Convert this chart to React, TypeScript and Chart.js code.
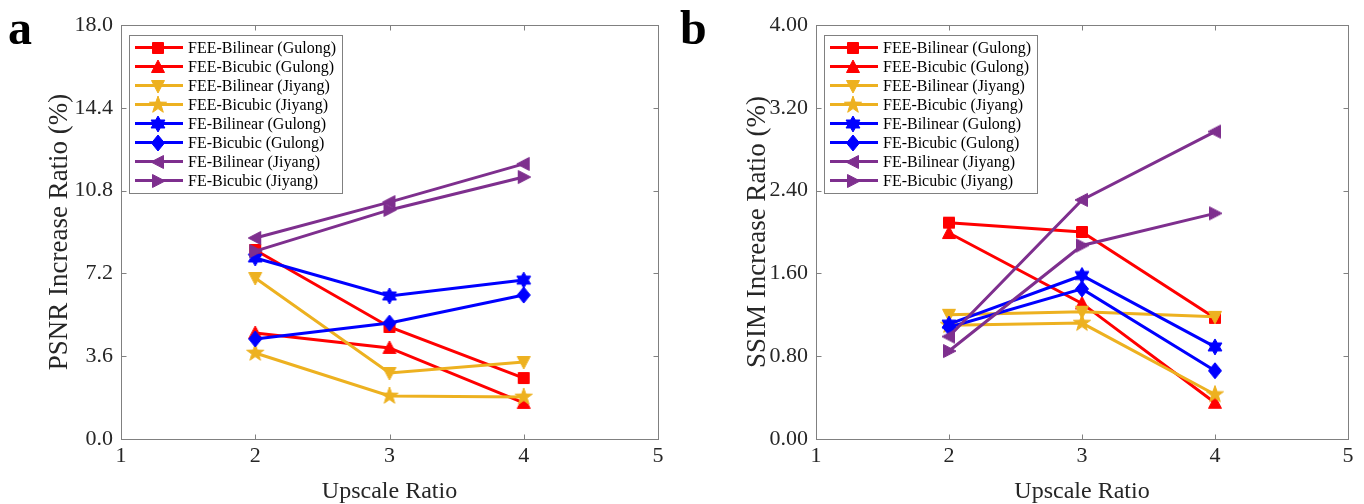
import React, { useEffect, useRef } from "react";
import { Chart, registerables } from "chart.js";

Chart.register(...registerables);

// ---------- data ----------
const upscaleRatios = [2, 3, 4];

const seriesLabels = [
  "FEE-Bilinear (Gulong)",
  "FEE-Bicubic (Gulong)",
  "FEE-Bilinear (Jiyang)",
  "FEE-Bicubic (Jiyang)",
  "FE-Bilinear (Gulong)",
  "FE-Bicubic (Gulong)",
  "FE-Bilinear (Jiyang)",
  "FE-Bicubic (Jiyang)",
];
const seriesColors = ["#FF0000", "#FF0000", "#EDB120", "#EDB120", "#0000FF", "#0000FF", "#7E2F8E", "#7E2F8E"];
const seriesMarkers = ["square", "triangleUp", "triangleDown", "pentagram", "hexagram", "diamond", "triangleLeft", "triangleRight"];

// PSNR increase ratio (%)
const psnrFeeBilinearGulong = [8.22, 4.87, 2.65];
const psnrFeeBicubicGulong = [4.61, 3.96, 1.57];
const psnrFeeBilinearJiyang = [7.0, 2.87, 3.35];
const psnrFeeBicubicJiyang = [3.74, 1.87, 1.83];
const psnrFeBilinearGulong = [7.87, 6.22, 6.91];
const psnrFeBicubicGulong = [4.35, 5.04, 6.26];
const psnrFeBilinearJiyang = [8.74, 10.3, 11.96];
const psnrFeBicubicJiyang = [8.17, 9.96, 11.39];

// SSIM increase ratio (%)
const ssimFeeBilinearGulong = [2.09, 2.0, 1.17];
const ssimFeeBicubicGulong = [1.99, 1.31, 0.35];
const ssimFeeBilinearJiyang = [1.2, 1.23, 1.18];
const ssimFeeBicubicJiyang = [1.1, 1.12, 0.43];
const ssimFeBilinearGulong = [1.11, 1.58, 0.89];
const ssimFeBicubicGulong = [1.08, 1.45, 0.66];
const ssimFeBilinearJiyang = [0.99, 2.31, 2.97];
const ssimFeBicubicJiyang = [0.85, 1.87, 2.18];

const xTicks = [1, 2, 3, 4, 5];
const psnrTicks = [0, 3.6, 7.2, 10.8, 14.4, 18.0];
const ssimTicks = [0, 0.8, 1.6, 2.4, 3.2, 4.0];

const psnrSeries = [
  psnrFeeBilinearGulong, psnrFeeBicubicGulong, psnrFeeBilinearJiyang, psnrFeeBicubicJiyang,
  psnrFeBilinearGulong, psnrFeBicubicGulong, psnrFeBilinearJiyang, psnrFeBicubicJiyang,
];
const ssimSeries = [
  ssimFeeBilinearGulong, ssimFeeBicubicGulong, ssimFeeBilinearJiyang, ssimFeeBicubicJiyang,
  ssimFeBilinearGulong, ssimFeBicubicGulong, ssimFeBilinearJiyang, ssimFeBicubicJiyang,
];

// ---------- styling helpers ----------
const FONT = "'Liberation Serif', 'Times New Roman', serif";
const TEXT = "#262626";
const FRAME = "#808080";

function makeMarker(shape: string, color: string): HTMLCanvasElement {
  const s = 20;
  const c = document.createElement("canvas");
  c.width = s;
  c.height = s;
  const ctx = c.getContext("2d")!;
  ctx.translate(s / 2, s / 2);
  ctx.fillStyle = color;
  ctx.strokeStyle = color;
  ctx.lineWidth = 1;
  ctx.beginPath();
  const poly = (pts: number[][]) => {
    ctx.moveTo(pts[0][0], pts[0][1]);
    for (let i = 1; i < pts.length; i++) ctx.lineTo(pts[i][0], pts[i][1]);
    ctx.closePath();
  };
  const star = (n: number, R: number, r: number) => {
    const pts: number[][] = [];
    for (let i = 0; i < n * 2; i++) {
      const a = -Math.PI / 2 + (i * Math.PI) / n;
      const rad = i % 2 === 0 ? R : r;
      pts.push([Math.cos(a) * rad, Math.sin(a) * rad]);
    }
    poly(pts);
  };
  switch (shape) {
    case "square":
      ctx.rect(-5.5, -5.5, 11, 11);
      break;
    case "triangleUp":
      poly([[0, -7], [6.5, 5.5], [-6.5, 5.5]]);
      break;
    case "triangleDown":
      poly([[0, 7], [6.5, -5.5], [-6.5, -5.5]]);
      break;
    case "triangleLeft":
      poly([[-7, 0], [5.5, -6.5], [5.5, 6.5]]);
      break;
    case "triangleRight":
      poly([[7, 0], [-5.5, -6.5], [-5.5, 6.5]]);
      break;
    case "pentagram":
      star(5, 9, 3.6);
      break;
    case "hexagram":
      star(6, 8, 4.6);
      break;
    case "diamond":
      poly([[0, -8], [6.5, 0], [0, 8], [-6.5, 0]]);
      break;
  }
  ctx.fill();
  ctx.stroke();
  return c;
}

const framePlugin = {
  id: "frame",
  beforeDatasetsDraw(chart: any) {
    const { ctx, chartArea } = chart;
    const { left, right, top, bottom } = chartArea;
    const x = chart.scales.x;
    const y = chart.scales.y;
    ctx.save();
    ctx.strokeStyle = FRAME;
    ctx.lineWidth = 1;
    const L = Math.round(left) + 0.5;
    const R = Math.round(right) + 0.5;
    const T = Math.round(top) + 0.5;
    const B = Math.round(bottom) + 0.5;
    ctx.strokeRect(L, T, R - L, B - T);
    const tl = 5;
    ctx.beginPath();
    x.ticks.forEach((t: any) => {
      const px = Math.round(x.getPixelForValue(t.value)) + 0.5;
      ctx.moveTo(px, B);
      ctx.lineTo(px, B - tl);
      ctx.moveTo(px, T);
      ctx.lineTo(px, T + tl);
    });
    y.ticks.forEach((t: any) => {
      const py = Math.round(y.getPixelForValue(t.value)) + 0.5;
      ctx.moveTo(L, py);
      ctx.lineTo(L + tl, py);
      ctx.moveTo(R, py);
      ctx.lineTo(R - tl, py);
    });
    ctx.stroke();
    ctx.restore();
  },
};

const innerLegendPlugin = {
  id: "innerLegend",
  afterDraw(chart: any) {
    const { ctx, chartArea } = chart;
    const ds = chart.data.datasets;
    ctx.save();
    ctx.font = `16px ${FONT}`;
    const boxL = chartArea.left + 8;
    const boxT = chartArea.top + 10;
    const rowH = 19;
    const firstRow = 12.5;
    const textX = boxL + 59;
    let maxW = 0;
    ds.forEach((d: any) => {
      maxW = Math.max(maxW, ctx.measureText(d.label).width);
    });
    const boxW = 59 + maxW + 6;
    const boxH = firstRow * 2 + rowH * (ds.length - 1);
    ctx.fillStyle = "#ffffff";
    ctx.fillRect(boxL, boxT, boxW, boxH);
    ctx.strokeStyle = FRAME;
    ctx.lineWidth = 1;
    ctx.strokeRect(Math.round(boxL) + 0.5, Math.round(boxT) + 0.5, Math.round(boxW), Math.round(boxH));
    ds.forEach((d: any, i: number) => {
      const cy = boxT + firstRow + i * rowH;
      ctx.strokeStyle = d.borderColor;
      ctx.lineWidth = 3;
      ctx.beginPath();
      ctx.moveTo(boxL + 6, cy);
      ctx.lineTo(boxL + 54, cy);
      ctx.stroke();
      const img = d.pointStyle as HTMLCanvasElement;
      ctx.drawImage(img, Math.round(boxL + 28.5 - img.width / 2), Math.round(cy - img.height / 2));
      ctx.fillStyle = "#000000";
      ctx.textBaseline = "middle";
      ctx.textAlign = "left";
      ctx.fillText(d.label, textX, cy + 1);
    });
    ctx.restore();
  },
};

const panelLetterPlugin = {
  id: "panelLetter",
  afterDraw(chart: any, _args: any, opts: any) {
    if (!opts || !opts.text) return;
    const ctx = chart.ctx;
    ctx.save();
    ctx.font = `bold 48px ${FONT}`;
    ctx.fillStyle = "#000000";
    ctx.textBaseline = "alphabetic";
    ctx.textAlign = "left";
    ctx.fillText(opts.text, opts.x, opts.y);
    ctx.restore();
  },
};

function buildConfig(
  series: number[][],
  yTicks: number[],
  yTitle: string,
  decimals: number,
  yAxisWidth: number,
  rightPad: number,
  yTitlePad: number,
  letter: string
): any {
  const datasets = series.map((vals, i) => ({
    label: seriesLabels[i],
    data: upscaleRatios.map((xv, j) => ({ x: xv, y: vals[j] })),
    borderColor: seriesColors[i],
    backgroundColor: seriesColors[i],
    borderWidth: 3,
    pointStyle: makeMarker(seriesMarkers[i], seriesColors[i]),
    pointRadius: 7,
    tension: 0,
    order: series.length - 1 - i,
    clip: false,
  }));
  return {
    type: "line",
    data: { datasets },
    plugins: [framePlugin, innerLegendPlugin, panelLetterPlugin],
    options: {
      animation: false,
      responsive: false,
      maintainAspectRatio: false,
      devicePixelRatio: 1,
      events: [],
      layout: { padding: { top: 25, right: rightPad, left: 0, bottom: 0 } },
      plugins: {
        legend: { display: false },
        tooltip: { enabled: false },
        panelLetter: { text: letter, x: 8, y: 44 },
      },
      scales: {
        x: {
          type: "linear",
          min: xTicks[0],
          max: xTicks[xTicks.length - 1],
          afterBuildTicks: (s: any) => {
            s.ticks = xTicks.map((v) => ({ value: v }));
          },
          afterFit: (s: any) => {
            s.height = 65;
          },
          grid: { display: false, drawTicks: false },
          border: { display: false },
          ticks: {
            autoSkip: false,
            maxRotation: 0,
            padding: 4,
            color: TEXT,
            font: { family: FONT, size: 22 },
            callback: (v: any) => String(v),
          },
          title: {
            display: true,
            text: "Upscale Ratio",
            color: TEXT,
            font: { family: FONT, size: 24, lineHeight: 1 },
            padding: { top: 0, bottom: 0 },
          },
        },
        y: {
          type: "linear",
          min: yTicks[0],
          max: yTicks[yTicks.length - 1],
          afterBuildTicks: (s: any) => {
            s.ticks = yTicks.map((v) => ({ value: v }));
          },
          afterFit: (s: any) => {
            s.width = yAxisWidth;
          },
          grid: { display: false, drawTicks: false },
          border: { display: false },
          ticks: {
            autoSkip: false,
            padding: 8,
            color: TEXT,
            font: { family: FONT, size: 22 },
            callback: (v: any) => Number(v).toFixed(decimals),
          },
          title: {
            display: true,
            text: yTitle,
            color: TEXT,
            font: { family: FONT, size: 27, lineHeight: 1.2 },
            padding: { top: yTitlePad, bottom: 0 },
          },
        },
      },
    },
  };
}

export default function App() {
  const refA = useRef<HTMLCanvasElement>(null);
  const refB = useRef<HTMLCanvasElement>(null);

  useEffect(() => {
    const a = new Chart(
      refA.current!,
      buildConfig(psnrSeries, psnrTicks, "PSNR Increase Ratio (%)", 1, 121, 14, 44, "a")
    );
    const b = new Chart(
      refB.current!,
      buildConfig(ssimSeries, ssimTicks, "SSIM Increase Ratio (%)", 2, 144, 16, 69.5, "b")
    );
    return () => {
      a.destroy();
      b.destroy();
    };
  }, []);

  return (
    <div style={{ position: "absolute", left: 0, top: 0, width: 1364, height: 504, background: "#fff" }}>
      <canvas ref={refA} width={672} height={504} style={{ position: "absolute", left: 0, top: 0, width: 672, height: 504 }} />
      <canvas ref={refB} width={692} height={504} style={{ position: "absolute", left: 672, top: 0, width: 692, height: 504 }} />
    </div>
  );
}
